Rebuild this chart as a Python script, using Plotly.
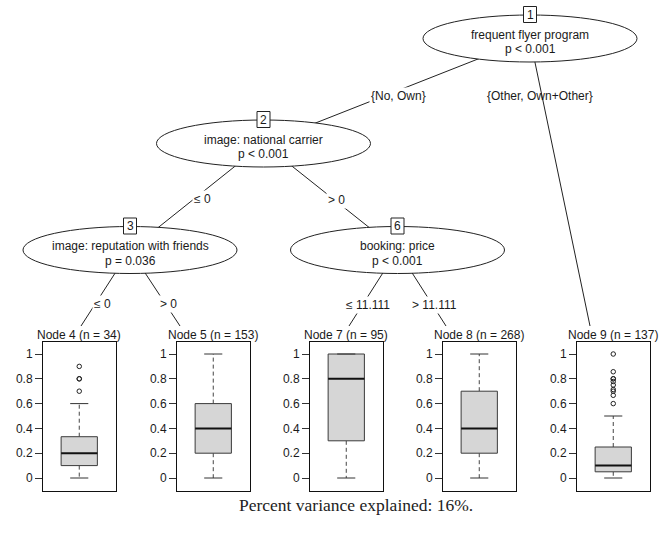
import plotly.graph_objects as go

# ---------------- data ----------------
# terminal nodes
term_ids = [4, 5, 7, 8, 9]
term_n = [34, 153, 95, 268, 137]
q1 = [0.1, 0.2, 0.3, 0.2, 0.05]
median = [0.2, 0.4, 0.8, 0.4, 0.1]
q3 = [0.333, 0.6, 1.0, 0.7, 0.25]
whisk_lo = [0.0, 0.0, 0.0, 0.0, 0.0]
whisk_hi = [0.6, 1.0, 1.0, 1.0, 0.5]
outliers = [
    [0.7, 0.8, 0.8, 0.9],
    [],
    [],
    [],
    [1.0, 0.857, 0.8, 0.8, 0.778, 0.75, 0.714, 0.7, 0.667, 0.6],
]
tick_vals = [0, 0.2, 0.4, 0.6, 0.8, 1]
tick_text = ["0", "0.2", "0.4", "0.6", "0.8", "1"]

# inner nodes
inner_ids = [1, 2, 3, 6]
inner_var = ["frequent flyer program", "image: national carrier",
             "image: reputation with friends", "booking: price"]
inner_p = ["p < 0.001", "p < 0.001", "p = 0.036", "p < 0.001"]

# edges: (parent, child, label)
edge_parent = [1, 1, 2, 2, 3, 3, 6, 6]
edge_child = [2, 9, 3, 6, 4, 5, 7, 8]
edge_label = ["{No, Own}", "{Other, Own+Other}", "\u2264 0", "> 0",
              "\u2264 0", "> 0", "\u2264 11.111", "> 11.111"]

caption = "Percent variance explained: 16%."

# ---------------- layout (pixel geometry) ----------------
W, H = 661, 547
node_xy = {1: (530, 38.5), 2: (263.5, 143.5), 3: (130, 250), 6: (397.5, 250),
           4: (81, 326), 5: (180, 326), 7: (349, 326), 8: (446, 326), 9: (590, 326)}
label_xy = [(398, 96), (540, 96), (202, 199), (336, 200),
            (102, 304), (168, 304), (368, 305), (434, 305)]
label_bg = [True, False, True, True, True, True, True, True]
ell_rx, ell_ry = 107, 23.5
panel_left = [43, 177, 310, 443, 577]
panel_w = 72.5
panel_top, panel_bot = 342, 491
y_lo, y_hi = -0.1048, 1.0968

FONT = "Liberation Sans, Arial, Helvetica, sans-serif"
TXT = "#1a1a1a"

fig = go.Figure()

# invisible anchor for main axes
fig.add_trace(go.Scatter(x=[0, W], y=[0, H], mode="markers",
                         marker=dict(opacity=0), hoverinfo="skip",
                         xaxis="x", yaxis="y"))

shapes = []
annotations = []

# edges
for p, c in zip(edge_parent, edge_child):
    x0, y0 = node_xy[p]
    x1, y1 = node_xy[c]
    fig.add_trace(go.Scatter(x=[x0, x1], y=[y0, y1], mode="lines",
                             line=dict(color="#222", width=1),
                             hoverinfo="skip", xaxis="x", yaxis="y"))

# ellipses + id boxes + text
for nid, var, pv in zip(inner_ids, inner_var, inner_p):
    cx, cy = node_xy[nid]
    shapes.append(dict(type="circle", xref="x", yref="y",
                       x0=cx - ell_rx, x1=cx + ell_rx, y0=cy - ell_ry, y1=cy + ell_ry,
                       fillcolor="white", line=dict(color="#222", width=1), layer="above"))
    top = cy - ell_ry
    shapes.append(dict(type="rect", xref="x", yref="y",
                       x0=cx - 6.5, x1=cx + 6.5, y0=top - 8.5, y1=top + 7.5,
                       fillcolor="white", line=dict(color="#222", width=1), layer="above"))
    annotations.append(dict(x=cx, y=top - 0.5, xref="x", yref="y", text=str(nid),
                            showarrow=False, font=dict(family=FONT, size=12, color=TXT)))
    annotations.append(dict(x=cx, y=cy - 4, xref="x", yref="y", text=var,
                            showarrow=False, font=dict(family=FONT, size=12, color=TXT)))
    annotations.append(dict(x=cx, y=cy + 10.5, xref="x", yref="y", text=pv,
                            showarrow=False, font=dict(family=FONT, size=12, color=TXT)))

# edge labels
for (lx, ly), lab, bg in zip(label_xy, edge_label, label_bg):
    annotations.append(dict(x=lx, y=ly, xref="x", yref="y", text=lab, showarrow=False,
                            bgcolor="white" if bg else "rgba(0,0,0,0)", borderpad=1,
                            font=dict(family=FONT, size=12, color=TXT)))

# terminal panels
layout_axes = {}
for i in range(len(term_ids)):
    k = i + 2
    xa, ya = f"x{k}", f"y{k}"
    left = panel_left[i]
    layout_axes[f"xaxis{k}"] = dict(
        domain=[left / W, (left + panel_w) / W], range=[0, 1], anchor=ya,
        showline=True, mirror=True, linecolor="#111", linewidth=1,
        showticklabels=False, ticks="", showgrid=False, zeroline=False, fixedrange=True)
    layout_axes[f"yaxis{k}"] = dict(
        domain=[(H - panel_bot) / H, (H - panel_top) / H], range=[y_lo, y_hi], anchor=xa,
        showline=True, mirror=True, linecolor="#111", linewidth=1,
        ticks="outside", ticklen=7, tickcolor="#333", tickwidth=1,
        tickvals=tick_vals, ticktext=tick_text,
        tickfont=dict(family=FONT, size=12, color=TXT),
        showgrid=False, zeroline=False, fixedrange=True)

    # whiskers (dashed)
    fig.add_trace(go.Scatter(x=[0.5, 0.5, None, 0.5, 0.5],
                             y=[q3[i], whisk_hi[i], None, q1[i], whisk_lo[i]],
                             mode="lines", line=dict(color="#444", width=1, dash="4px,3px"),
                             hoverinfo="skip", xaxis=xa, yaxis=ya))
    # box
    fig.add_trace(go.Scatter(x=[0.25, 0.75, 0.75, 0.25, 0.25],
                             y=[q1[i], q1[i], q3[i], q3[i], q1[i]],
                             mode="lines", fill="toself", fillcolor="#d6d6d6",
                             line=dict(color="#3a3a3a", width=1),
                             hoverinfo="skip", xaxis=xa, yaxis=ya))
    # caps
    fig.add_trace(go.Scatter(x=[0.375, 0.625, None, 0.375, 0.625],
                             y=[whisk_hi[i], whisk_hi[i], None, whisk_lo[i], whisk_lo[i]],
                             mode="lines", line=dict(color="#333", width=1),
                             hoverinfo="skip", xaxis=xa, yaxis=ya))
    # median
    fig.add_trace(go.Scatter(x=[0.25, 0.75], y=[median[i], median[i]], mode="lines",
                             line=dict(color="#111", width=2),
                             hoverinfo="skip", xaxis=xa, yaxis=ya))
    # outliers
    if outliers[i]:
        fig.add_trace(go.Scatter(x=[0.5] * len(outliers[i]), y=outliers[i], mode="markers",
                                 marker=dict(symbol="circle-open", size=4.5,
                                             color="#222", line=dict(width=1)),
                                 hoverinfo="skip", xaxis=xa, yaxis=ya))
    # header
    annotations.append(dict(x=left + panel_w / 2, y=335, xref="x", yref="y",
                            text=f"Node {term_ids[i]} (n = {term_n[i]})", showarrow=False,
                            font=dict(family=FONT, size=12, color=TXT)))

# caption
annotations.append(dict(x=356, y=505, xref="x", yref="y", text=caption, showarrow=False,
                        font=dict(family="Liberation Serif, Times New Roman, serif",
                                  size=17.5, color="#222")))

fig.update_layout(
    width=W, height=H, margin=dict(l=0, r=0, t=0, b=0),
    paper_bgcolor="white", plot_bgcolor="rgba(0,0,0,0)", showlegend=False,
    xaxis=dict(range=[0, W], domain=[0, 1], visible=False, fixedrange=True),
    yaxis=dict(range=[H, 0], domain=[0, 1], visible=False, fixedrange=True),
    shapes=shapes, annotations=annotations, **layout_axes)

fig.write_html("out.html", config={"displayModeBar": False},
               post_script="document.body.style.margin='0';document.body.style.overflow='hidden';")
